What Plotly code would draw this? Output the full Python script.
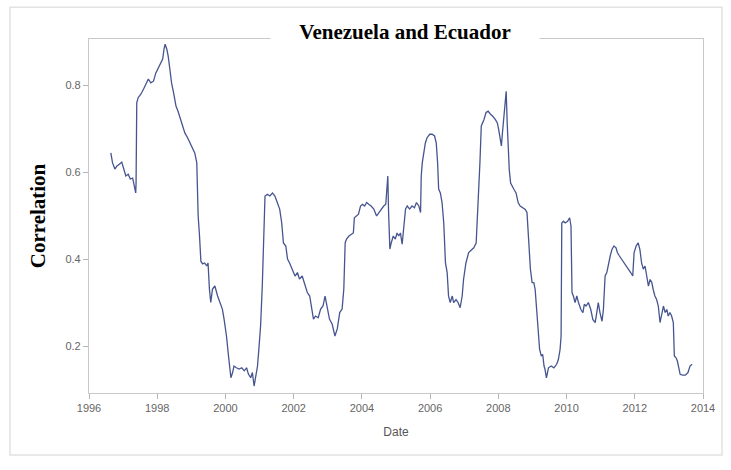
import plotly.graph_objects as go

# Rolling correlation between Venezuela and Ecuador, by date (decimal years)
years = [
    1996.64, 1996.69, 1996.76, 1996.82, 1996.89, 1996.96, 1997.02, 1997.08, 1997.15, 1997.21,
    1997.28, 1997.33, 1997.37, 1997.38, 1997.40, 1997.44, 1997.52, 1997.60, 1997.67, 1997.74,
    1997.81, 1997.89, 1997.96, 1998.03, 1998.09, 1998.16, 1998.20, 1998.23, 1998.28, 1998.32,
    1998.37, 1998.42, 1998.48, 1998.55, 1998.61, 1998.67, 1998.74, 1998.81, 1998.89, 1998.96,
    1999.03, 1999.10, 1999.16, 1999.20, 1999.24, 1999.28, 1999.33, 1999.39, 1999.45, 1999.49,
    1999.53, 1999.57, 1999.62, 1999.69, 1999.77, 1999.84, 1999.91, 1999.96, 2000.03, 2000.09,
    2000.13, 2000.16, 2000.21, 2000.25, 2000.32, 2000.40, 2000.48, 2000.55, 2000.62, 2000.67,
    2000.74, 2000.79, 2000.84, 2000.89, 2000.94, 2000.98, 2001.03, 2001.08, 2001.13, 2001.16,
    2001.23, 2001.30, 2001.38, 2001.45, 2001.52, 2001.59, 2001.65, 2001.70, 2001.77, 2001.82,
    2001.88, 2001.96, 2002.04, 2002.11, 2002.17, 2002.25, 2002.33, 2002.40, 2002.47, 2002.53,
    2002.58, 2002.64, 2002.72, 2002.79, 2002.86, 2002.92, 2002.99, 2003.05, 2003.13, 2003.21,
    2003.28, 2003.35, 2003.42, 2003.47, 2003.51, 2003.55, 2003.62, 2003.69, 2003.75, 2003.78,
    2003.84, 2003.90, 2003.96, 2004.02, 2004.08, 2004.14, 2004.20, 2004.27, 2004.35, 2004.43,
    2004.50, 2004.57, 2004.64, 2004.70, 2004.76, 2004.78, 2004.82, 2004.86, 2004.92, 2004.98,
    2005.03, 2005.08, 2005.13, 2005.18, 2005.23, 2005.28, 2005.33, 2005.40, 2005.47, 2005.54,
    2005.60, 2005.67, 2005.72, 2005.74, 2005.77, 2005.81, 2005.86, 2005.91, 2005.99, 2006.06,
    2006.13, 2006.18, 2006.22, 2006.25, 2006.30, 2006.35, 2006.40, 2006.45, 2006.50, 2006.54,
    2006.59, 2006.65, 2006.69, 2006.76, 2006.82, 2006.88, 2006.94, 2006.98, 2007.05, 2007.13,
    2007.21, 2007.28, 2007.35, 2007.38, 2007.42, 2007.46, 2007.50, 2007.54, 2007.58, 2007.64,
    2007.70, 2007.77, 2007.83, 2007.91, 2007.97, 2008.01, 2008.05, 2008.09, 2008.12, 2008.17,
    2008.20, 2008.23, 2008.26, 2008.28, 2008.32, 2008.36, 2008.40, 2008.46, 2008.52, 2008.58,
    2008.64, 2008.71, 2008.79, 2008.84, 2008.89, 2008.94, 2008.99, 2009.04, 2009.08, 2009.13,
    2009.18, 2009.21, 2009.26, 2009.30, 2009.34, 2009.37, 2009.41, 2009.47, 2009.55, 2009.63,
    2009.71, 2009.76, 2009.81, 2009.84, 2009.86, 2009.91, 2009.96, 2010.03, 2010.09, 2010.13,
    2010.16, 2010.20, 2010.25, 2010.30, 2010.35, 2010.42, 2010.48, 2010.52, 2010.57, 2010.64,
    2010.71, 2010.77, 2010.84, 2010.89, 2010.93, 2010.98, 2011.04, 2011.08, 2011.13, 2011.18,
    2011.23, 2011.28, 2011.33, 2011.39, 2011.45, 2011.49, 2011.55, 2011.62, 2011.69, 2011.74,
    2011.81, 2011.88, 2011.94, 2011.98, 2012.04, 2012.10, 2012.15, 2012.20, 2012.25, 2012.30,
    2012.35, 2012.40, 2012.45, 2012.50, 2012.54, 2012.59, 2012.64, 2012.69, 2012.74, 2012.79,
    2012.84, 2012.89, 2012.94, 2012.98, 2013.03, 2013.08, 2013.13, 2013.16, 2013.21, 2013.25,
    2013.29, 2013.33, 2013.40, 2013.48, 2013.56, 2013.62, 2013.68,
]

correlation = [
    0.644, 0.621, 0.607, 0.614, 0.618, 0.623, 0.607, 0.591, 0.595, 0.584,
    0.586, 0.563, 0.552, 0.575, 0.759, 0.771, 0.779, 0.791, 0.802, 0.814,
    0.805, 0.809, 0.828, 0.840, 0.848, 0.860, 0.883, 0.894, 0.883, 0.867,
    0.837, 0.805, 0.782, 0.752, 0.740, 0.725, 0.706, 0.690, 0.679, 0.667,
    0.656, 0.644, 0.621, 0.499, 0.453, 0.395, 0.389, 0.391, 0.384, 0.391,
    0.331, 0.300, 0.331, 0.338, 0.315, 0.300, 0.285, 0.262, 0.223, 0.177,
    0.147, 0.127, 0.139, 0.154, 0.150, 0.147, 0.150, 0.143, 0.150, 0.136,
    0.127, 0.139, 0.108, 0.131, 0.154, 0.193, 0.246, 0.338, 0.453, 0.545,
    0.549, 0.545, 0.552, 0.545, 0.530, 0.515, 0.483, 0.437, 0.430, 0.400,
    0.391, 0.377, 0.361, 0.369, 0.354, 0.361, 0.338, 0.323, 0.315, 0.285,
    0.262, 0.269, 0.265, 0.285, 0.292, 0.315, 0.285, 0.262, 0.250, 0.223,
    0.240, 0.277, 0.285, 0.331, 0.437, 0.446, 0.453, 0.457, 0.460, 0.495,
    0.499, 0.503, 0.522, 0.526, 0.522, 0.530, 0.526, 0.522, 0.515, 0.499,
    0.507, 0.515, 0.522, 0.526, 0.591, 0.515, 0.423, 0.437, 0.453, 0.446,
    0.460, 0.453, 0.460, 0.434, 0.469, 0.515, 0.522, 0.515, 0.522, 0.518,
    0.530, 0.522, 0.507, 0.591, 0.621, 0.644, 0.667, 0.679, 0.687, 0.687,
    0.683, 0.667, 0.621, 0.561, 0.552, 0.530, 0.483, 0.391, 0.369, 0.315,
    0.300, 0.315, 0.300, 0.307, 0.300, 0.288, 0.315, 0.353, 0.391, 0.415,
    0.422, 0.426, 0.437, 0.483, 0.545, 0.621, 0.706, 0.713, 0.721, 0.737,
    0.740, 0.733, 0.729, 0.721, 0.713, 0.698, 0.675, 0.660, 0.690, 0.729,
    0.767, 0.786, 0.713, 0.660, 0.606, 0.575, 0.568, 0.560, 0.552, 0.530,
    0.522, 0.518, 0.514, 0.507, 0.437, 0.377, 0.346, 0.346, 0.330, 0.284,
    0.238, 0.192, 0.177, 0.181, 0.154, 0.146, 0.127, 0.150, 0.154, 0.150,
    0.158, 0.169, 0.192, 0.223, 0.483, 0.487, 0.483, 0.487, 0.495, 0.476,
    0.323, 0.315, 0.300, 0.315, 0.300, 0.284, 0.277, 0.296, 0.292, 0.300,
    0.284, 0.261, 0.254, 0.277, 0.300, 0.277, 0.257, 0.284, 0.361, 0.369,
    0.391, 0.407, 0.422, 0.430, 0.426, 0.415, 0.407, 0.399, 0.391, 0.388,
    0.380, 0.369, 0.361, 0.415, 0.430, 0.437, 0.422, 0.391, 0.377, 0.384,
    0.361, 0.338, 0.353, 0.346, 0.330, 0.315, 0.307, 0.292, 0.254, 0.277,
    0.292, 0.277, 0.284, 0.269, 0.277, 0.269, 0.254, 0.177, 0.173, 0.165,
    0.150, 0.135, 0.133, 0.133, 0.139, 0.154, 0.158,
]

x_ticks = [1996, 1998, 2000, 2002, 2004, 2006, 2008, 2010, 2012, 2014]
y_ticks = [0.2, 0.4, 0.6, 0.8]

TITLE = "Venezuela and Ecuador"
SERIF = "Liberation Serif, Times New Roman, serif"
SANS = "Liberation Sans, Arial, sans-serif"
FRAME = "#c9c9c9"

fig = go.Figure()
fig.add_trace(go.Scatter(
    x=years, y=correlation, mode="lines",
    line=dict(color="#46558f", width=1.3),
    hoverinfo="x+y", showlegend=False,
))

axis_common = dict(
    showline=True, linecolor=FRAME, linewidth=1.2, mirror=True,
    showgrid=False, zeroline=False,
    ticks="outside", ticklen=5, tickcolor="#b5b5b5", tickwidth=1,
    tickfont=dict(family=SANS, size=11, color="#666666"),
)

fig.update_layout(
    width=731, height=470,
    margin=dict(l=89, r=28, t=39, b=77),
    paper_bgcolor="white", plot_bgcolor="white",
    xaxis=dict(
        range=[1996, 2014], tickvals=x_ticks, ticktext=[str(t) for t in x_ticks],
        title=dict(text="Date", font=dict(family=SANS, size=12, color="#555555"), standoff=14),
        **axis_common,
    ),
    yaxis=dict(
        range=[0.092, 0.906], tickvals=y_ticks, ticktext=[f"{t:.1f}" for t in y_ticks],
        title=dict(text="<b>Correlation</b>", font=dict(family=SERIF, size=21, color="#000000"),
                   standoff=14),
        **axis_common,
    ),
    shapes=[
        dict(type="rect", xref="paper", yref="paper",
             x0=-0.1287, x1=1.031, y0=-0.175, y1=1.090,
             line=dict(color="#e2e2e2", width=1.5), fillcolor="rgba(0,0,0,0)", layer="below"),
    ],
    annotations=[
        dict(text=f"<b>{TITLE}</b>", xref="paper", yref="paper",
             x=0.515, y=1.02, xanchor="center", yanchor="middle",
             showarrow=False, bgcolor="white", width=266, height=28,
             font=dict(family=SERIF, size=21, color="#000000")),
    ],
)

fig.write_html("out.html")
